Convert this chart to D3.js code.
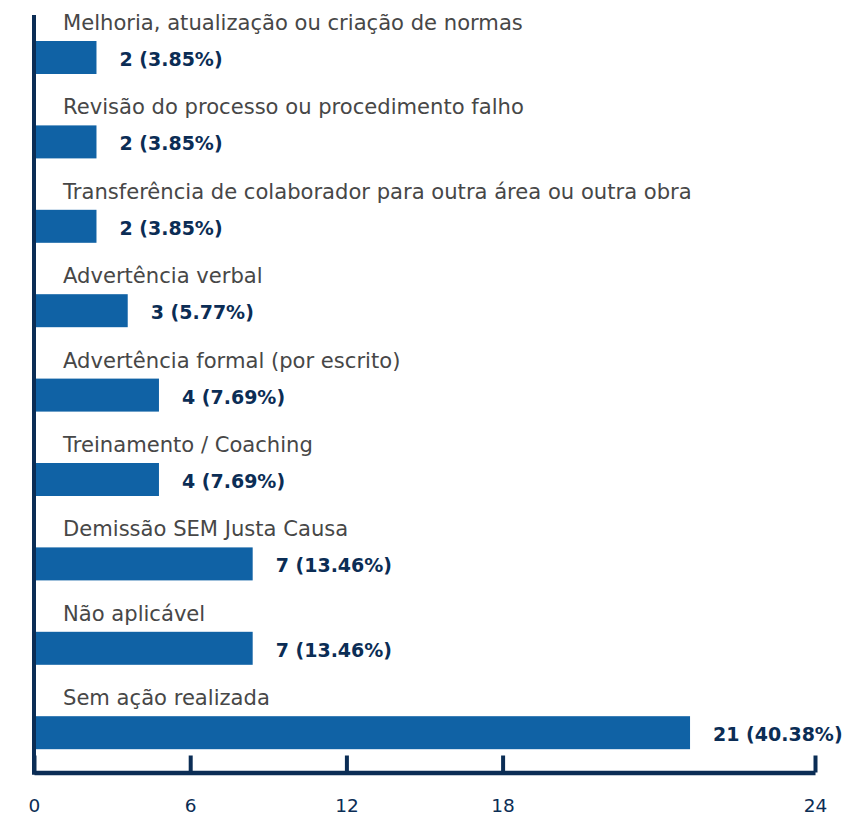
<!DOCTYPE html>
<html>
<head>
<meta charset="utf-8">
<script src="https://cdnjs.cloudflare.com/ajax/libs/d3/7.8.5/d3.min.js"></script>
<style>
  body { margin: 0; background: #fff; }
</style>
</head>
<body>
<div id="chart-area"></div>
<script>
var categories = [
    "Melhoria, atualização ou criação de normas",
    "Revisão do processo ou procedimento falho",
    "Transferência de colaborador para outra área ou outra obra",
    "Advertência verbal",
    "Advertência formal (por escrito)",
    "Treinamento / Coaching",
    "Demissão SEM Justa Causa",
    "Não aplicável",
    "Sem ação realizada"
];
var counts = [2, 2, 2, 3, 4, 4, 7, 7, 21];
var percents = [3.85, 3.85, 3.85, 5.77, 7.69, 7.69, 13.46, 13.46, 40.38];
var tickLabels = ["0", "6", "12", "18", "", "24"];

var width = 845, height = 816;
var navy = "#0b2d55";
var font = "'DejaVu Sans', sans-serif";

var svg = d3.select("#chart-area")
    .append("svg")
    .attr("width", width)
    .attr("height", height);

var x = d3.scaleLinear().domain([0, 25]).range([34, 815]);
var y = d3.scaleBand().domain(categories).range([41, 41 + 84.4 * categories.length]);
var barH = 33;

var data = categories.map((c, i) => ({ cat: c, n: counts[i], pct: percents[i] }));

var rows = svg.selectAll(".row")
    .data(data)
    .enter()
    .append("g")
    .attr("class", "row");

rows.append("rect")
    .attr("x", x(0))
    .attr("y", d => y(d.cat))
    .attr("width", d => x(d.n) - x(0))
    .attr("height", barH)
    .attr("fill", "#1062a5");

rows.append("text")
    .attr("x", 63)
    .attr("y", d => y(d.cat) - 11)
    .attr("font-family", font)
    .attr("font-size", "21.1px")
    .attr("fill", "#474747")
    .text(d => d.cat);

rows.append("text")
    .attr("x", d => x(d.n) + 23)
    .attr("y", d => y(d.cat) + 25)
    .attr("font-family", font)
    .attr("font-size", "19px")
    .attr("font-weight", "bold")
    .attr("fill", navy)
    .text(d => d.n + " (" + d.pct.toFixed(2) + "%)");

// axis
var tickScale = d3.scalePoint().domain(tickLabels).range([34, 815]);
var axisY = 772.5;

var xAxis = svg.append("g")
    .attr("transform", "translate(0," + axisY + ")")
    .call(d3.axisBottom(tickScale)
        .tickValues(tickLabels.filter(t => t !== ""))
        .tickSizeInner(-17)
        .tickSizeOuter(0)
        .tickPadding(26));

xAxis.select(".domain")
    .attr("stroke", navy)
    .attr("stroke-width", 4.5);
xAxis.selectAll(".tick line")
    .attr("stroke", navy)
    .attr("stroke-width", 4);
xAxis.selectAll(".tick text")
    .attr("fill", navy)
    .attr("font-family", font)
    .attr("font-size", "18.5px");

svg.append("line")
    .attr("x1", 34).attr("x2", 34)
    .attr("y1", 15).attr("y2", axisY + 2.25)
    .attr("stroke", navy)
    .attr("stroke-width", 4);
</script>
</body>
</html>
